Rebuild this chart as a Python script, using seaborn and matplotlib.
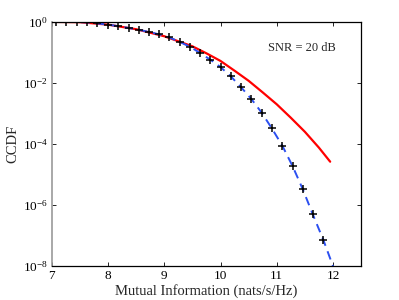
import numpy as np
import pandas as pd
import matplotlib
matplotlib.use("Agg")
import matplotlib.pyplot as plt
import seaborn as sns
from matplotlib.ticker import FixedLocator, LogFormatterMathtext, NullLocator

# ---- data ----
sim_x = [7.07, 7.26, 7.44, 7.62, 7.81, 8.00, 8.18, 8.37, 8.55, 8.73, 8.91, 9.09,
         9.28, 9.46, 9.63, 9.82, 10.00, 10.18, 10.36, 10.55, 10.73, 10.91, 11.10,
         11.28, 11.46, 11.64, 11.83]
sim_log = [0.0, 0.0, -0.005, -0.015, -0.05, -0.09, -0.14, -0.20, -0.26, -0.33, -0.41, -0.51,
           -0.66, -0.82, -1.01, -1.24, -1.48, -1.78, -2.13, -2.53, -2.97, -3.48, -4.06,
           -4.72, -5.47, -6.30, -7.15]

approx_x = [7.0] + sim_x + [12.02]
approx_log = [0.0] + sim_log + [-8.10]

gauss_x = [7.0, 7.5, 8.0, 8.5, 9.0, 9.5, 9.75, 10.0, 10.25, 10.5, 10.75, 11.0,
           11.25, 11.5, 11.75, 11.95]
gauss_log = [0.0, -0.01, -0.09, -0.24, -0.47, -0.80, -1.03, -1.28, -1.60, -1.93, -2.31, -2.70,
             -3.14, -3.60, -4.12, -4.58]

annotation = "SNR = 20 dB"
x_ticks = [7, 8, 9, 10, 11, 12]
y_ticks = [1e0, 1e-2, 1e-4, 1e-6, 1e-8]

sim = pd.DataFrame({"x": sim_x, "y": np.power(10.0, sim_log)})
approx = pd.DataFrame({"x": approx_x, "y": np.power(10.0, approx_log)})
gauss = pd.DataFrame({"x": gauss_x, "y": np.power(10.0, gauss_log)})

sns.set_style("ticks")
plt.rcParams["font.family"] = ["Liberation Serif", "DejaVu Serif"]
plt.rcParams["mathtext.fontset"] = "stix"
plt.rcParams["xtick.direction"] = "in"
plt.rcParams["ytick.direction"] = "in"

fig = plt.figure(figsize=(3.99, 3.0), dpi=100)
ax = fig.add_axes([0.130, 0.113, 0.775, 0.814])

sns.lineplot(data=gauss, x="x", y="y", ax=ax, color="#ff0000", lw=1.6, sort=False)
sns.lineplot(data=approx, x="x", y="y", ax=ax, color="#2b4ff0", lw=1.4,
             linestyle=(0, (4.5, 3)), sort=False)
sns.scatterplot(data=sim, x="x", y="y", ax=ax, marker="+", color="black",
                s=28, linewidth=1.1, zorder=5)

ax.set_yscale("log")
ax.set_xlim(7, 12.5)
ax.set_ylim(1e-8, 1e0)
ax.xaxis.set_major_locator(FixedLocator(x_ticks))
ax.yaxis.set_major_locator(FixedLocator(y_ticks))
ax.yaxis.set_major_formatter(LogFormatterMathtext())
ax.yaxis.set_minor_locator(NullLocator())
ax.tick_params(axis="both", which="major", labelsize=9.5, length=3, width=0.6,
               top=True, right=True, pad=3, colors="black")

for side in ["top", "right", "bottom"]:
    ax.spines[side].set_visible(True)
    ax.spines[side].set_color("black")
    ax.spines[side].set_linewidth(0.9)
ax.spines["left"].set_color("#9a9a9a")
ax.spines["left"].set_linewidth(1.2)

ax.set_xlabel("Mutual Information (nats/s/Hz)", fontsize=10.5, labelpad=1)
ax.set_ylabel("CCDF", fontsize=10.5, labelpad=2)
ax.text(0.81, 0.893, annotation, transform=ax.transAxes, ha="center", va="center",
        fontsize=9)

fig.savefig("out.png", dpi=100)
